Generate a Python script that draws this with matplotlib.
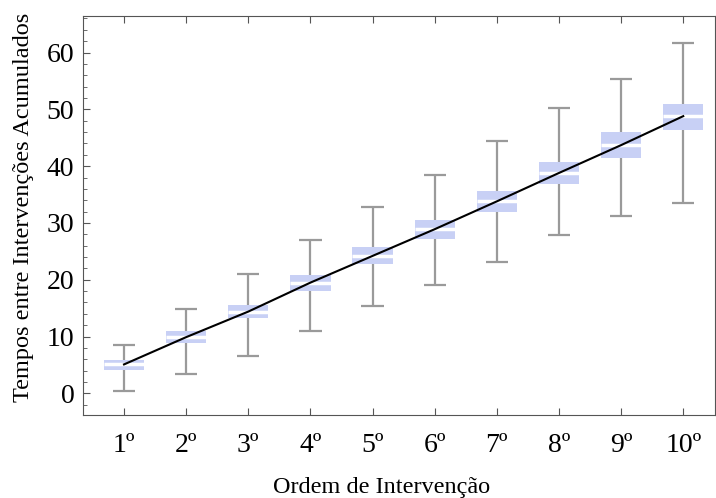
import numpy as np
import matplotlib
matplotlib.use("Agg")
import matplotlib.pyplot as plt
from matplotlib.ticker import MultipleLocator

# --- Data ---
labels = ["1º", "2º", "3º", "4º", "5º", "6º", "7º", "8º", "9º", "10º"]
whisker_low = [0.5, 3.4, 6.6, 11.0, 15.3, 19.0, 23.2, 27.9, 31.2, 33.6]
box_low = [4.2, 8.9, 13.2, 18.0, 22.7, 27.1, 31.9, 36.8, 41.5, 46.4]
medians = [5.1, 9.9, 14.4, 19.5, 24.2, 28.9, 33.8, 38.8, 43.7, 48.8]
box_high = [5.9, 10.9, 15.5, 20.9, 25.8, 30.6, 35.7, 40.8, 46.0, 50.9]
whisker_high = [8.5, 14.8, 21.0, 27.0, 32.8, 38.5, 44.4, 50.3, 55.3, 61.7]

plt.rcParams['font.family'] = ['Liberation Serif', 'DejaVu Serif']

x = np.arange(1, len(labels) + 1)
box_w = 0.65
cap_w = 0.36

fig = plt.figure(figsize=(7.16, 4.98), dpi=100)
ax = fig.add_axes([0.1155, 0.1667, 0.883, 0.802])

# whiskers + caps
wcol = "#9a9a9a"
ax.vlines(x, whisker_low, whisker_high, color=wcol, lw=1.6, zorder=1)
ax.hlines(whisker_low, x - cap_w / 2, x + cap_w / 2, color=wcol, lw=1.6, zorder=1)
ax.hlines(whisker_high, x - cap_w / 2, x + cap_w / 2, color=wcol, lw=1.6, zorder=1)

# boxes
heights = np.array(box_high) - np.array(box_low)
ax.bar(x, heights, bottom=box_low, width=box_w, color="#c8d0f5", zorder=2)
ax.hlines(medians, x - box_w / 2, x + box_w / 2, color="white", lw=2.5, zorder=3)

# line through medians
ax.plot(x, medians, color="black", lw=1.5, zorder=4)

ax.set_xlim(0.335, 10.51)
ax.set_ylim(-3.8, 66.5)
ax.set_xticks(x)
ax.set_xticklabels(labels)
ax.yaxis.set_major_locator(MultipleLocator(10))
ax.yaxis.set_minor_locator(MultipleLocator(2))

for side in ax.spines.values():
    side.set_color("#555555")
ax.tick_params(axis="x", which="major", direction="in", length=5, top=True,
               color="#555555", labelsize=20, pad=13)
ax.tick_params(axis="y", which="major", direction="in", length=5,
               color="#555555", labelsize=20, pad=6)
ax.tick_params(axis="y", which="minor", direction="in", length=3, color="#555555")

ax.set_xlabel("Ordem de Intervenção", fontsize=17.5, labelpad=14, x=0.472)
ax.set_ylabel("Tempos entre Intervenções Acumulados", fontsize=17.5, labelpad=9, y=0.52)

fig.savefig("out.png", dpi=100)
